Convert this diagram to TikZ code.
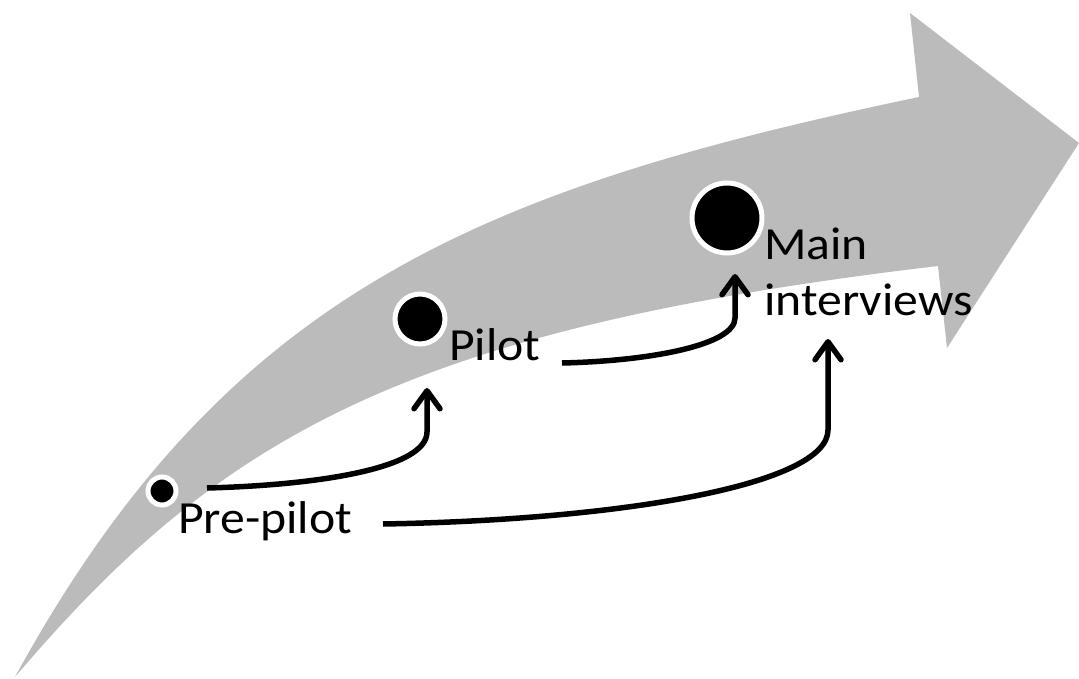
\documentclass[tikz,border=0pt]{standalone}
\usepackage{fontspec}
\setmainfont{Carlito}
\usepackage{graphicx}
\usetikzlibrary{arrows.meta}
\definecolor{bandgray}{RGB}{187,187,187}
\newcommand{\widetext}[1]{\scalebox{1.08}[1]{#1}}
\begin{document}
\begin{tikzpicture}[x=1pt,y=-1pt,
  stagedot/.style={circle,fill=black,draw=white,line width=5pt,inner sep=0pt},
  stagelabel/.style={anchor=base west,inner sep=0pt,font=\fontsize{46}{56}\selectfont,align=left},
  flow/.style={line width=5.5pt,-{Straight Barb[length=18pt,width=26pt,round]}}]
\useasboundingbox (0,0) rectangle (1079,679);

% the big curved grey arrow
\fill[bandgray]
  (15,677) .. controls (225,293) and (479,189) .. (919,97)
  -- (910,13) -- (1079,143) -- (947,348) -- (938,266)
  .. controls (404,329) and (219,437) .. (15,677)
  -- cycle;

% stage markers
\node[stagedot,minimum size=28pt] (pdot) at (162,491) {};
\node[stagedot,minimum size=50pt] (ldot) at (420,319) {};
\node[stagedot,minimum size=70pt] (mdot) at (727,218) {};

% stage labels
\node[stagelabel] (pre) at (178,533) {\widetext{Pre-pilot}};
\node[stagelabel] (pil) at (449,360) {\widetext{Pilot}};
\node[stagelabel] (main) at (764,315) {\widetext{Main}\\\widetext{interviews}};

% anchor points of the connectors
\coordinate (s1) at (207,488);
\coordinate (e1) at (427,388);
\coordinate (s2) at (562,363);
\coordinate (e2) at (735,274);
\coordinate (s3) at (383,524);
\coordinate (e3) at (828,339);

% connectors
\draw[flow] (s1) .. controls (320,485) and (427,468) .. (427,432) -- (e1);
\draw[flow] (s2) .. controls (650,361) and (735,345) .. (735,318) -- (e2);
\draw[flow] (s3) .. controls (620,520) and (828,485) .. (828,430) -- (e3);
\end{tikzpicture}
\end{document}
